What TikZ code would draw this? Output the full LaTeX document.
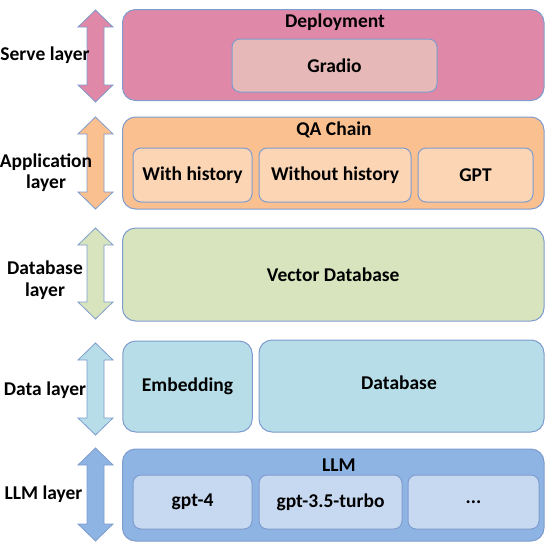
\documentclass[tikz,border=0pt]{standalone}
\usepackage{fontspec}
\setmainfont{Carlito}
\usetikzlibrary{positioning}
\definecolor{edge}{RGB}{126,156,206}
\definecolor{servefill}{RGB}{224,136,167}
\definecolor{gradiofill}{RGB}{230,185,184}
\definecolor{appfill}{RGB}{250,192,144}
\definecolor{qafill}{RGB}{252,213,181}
\definecolor{dbfill}{RGB}{215,228,189}
\definecolor{datafill}{RGB}{183,222,232}
\definecolor{llmfill}{RGB}{142,180,227}
\definecolor{modelfill}{RGB}{198,217,241}
\newcommand{\layerarrow}[3]{% top, bottom, colour
\draw[arrowline, fill=#3] (95.5,#1) -- ++(17.5,17) -- ++(-9,0) -- ++(0,{#2-#1-34}) -- ++(9,0)
  -- (95.5,#2) -- ++(-17.5,-17) -- ++(9,0) -- ++(0,{#1-#2+34}) -- ++(-9,0) -- cycle;}

\begin{document}
\begin{tikzpicture}[x=1pt,y=-1pt,
  font=\fontsize{19.5}{21.5}\selectfont\bfseries,
  outerbox/.style={draw=edge, line width=1pt, rounded corners=13pt, inner sep=0pt},
  innerbox/.style={draw=edge, line width=1pt, rounded corners=8pt, inner sep=0pt},
  arrowline/.style={draw=edge, line width=0.8pt},
  layername/.style={align=center}]
\useasboundingbox (0,0) rectangle (551,555);
% serve layer
\layerarrow{10}{102}{servefill}
\node[outerbox, fill=servefill, minimum width=421.5pt, minimum height=91pt] (serve) at (333.25,55) {};
\node (deploy) at (335,22) {Deployment};
\node[innerbox, fill=gradiofill, minimum width=205pt, minimum height=53pt] (gradio) at (334.5,65.5) {Gradio};
\node[layername] (servelabel) at (45,55.5) {Serve layer};
% application layer
\layerarrow{117}{209}{appfill}
\node[outerbox, fill=appfill, minimum width=421.5pt, minimum height=92pt] (app) at (333.25,163) {};
\node (qachain) at (334,129.5) {QA Chain};
\node[innerbox, fill=qafill, minimum width=119pt, minimum height=54pt] (withhist) at (192.5,175) {With history};
\node[innerbox, fill=qafill, minimum width=152pt, minimum height=54pt] (withouthist) at (335,175) {Without history};
\node[innerbox, fill=qafill, minimum width=115pt, minimum height=54pt] (gpt) at (475.5,175) {GPT};
\node[layername] (applabel) at (46,172.5) {Application\\layer};
% database layer
\layerarrow{228}{319}{dbfill}
\node[outerbox, fill=dbfill, minimum width=421.5pt, minimum height=93pt] (vecdb) at (333.25,274.5) {Vector Database};
\node[layername] (dblabel) at (45,280) {Database\\layer};
% data layer
\layerarrow{343}{435}{datafill}
\node[outerbox, fill=datafill, minimum width=129.5pt, minimum height=91pt] (embed) at (187.5,386.5) {Embedding};
\node[outerbox, fill=datafill, minimum width=285pt, minimum height=92pt] (database) at (401.5,386) {};
\node (dbtext) at (399,383) {Database};
\node[layername] (datalabel) at (45,390) {Data layer};
% llm layer
\layerarrow{448}{541}{llmfill}
\node[outerbox, fill=llmfill, minimum width=421.5pt, minimum height=92pt] (llm) at (333.25,495) {};
\node (llmtext) at (339,465) {LLM};
\node[innerbox, fill=modelfill, minimum width=119pt, minimum height=54pt] (gptfour) at (192.5,502) {gpt-4};
\node[innerbox, fill=modelfill, minimum width=143pt, minimum height=54pt] (gptturbo) at (330.5,502) {gpt-3.5-turbo};
\node[innerbox, fill=modelfill, minimum width=131pt, minimum height=54pt] (more) at (473.5,502) {...};
\node[layername] (llmlabel) at (43.5,494) {LLM layer};
\end{tikzpicture}
\end{document}
